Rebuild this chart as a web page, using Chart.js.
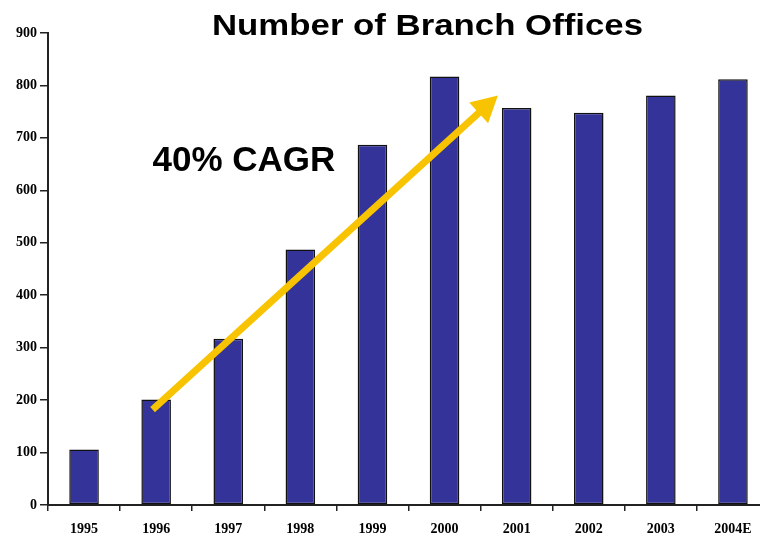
<!DOCTYPE html>
<html>
<head>
<meta charset="utf-8">
<title>Number of Branch Offices</title>
<script src="https://cdn.jsdelivr.net/npm/chart.js@4.4.1/dist/chart.umd.min.js"></script>
<style>
  html, body { margin: 0; padding: 0; background: #fff; overflow: hidden; }
  #wrap { position: relative; width: 772px; height: 538px; }
</style>
</head>
<body>
<div id="wrap"><canvas id="chart-cabang"></canvas></div>
<script>
// ── Data ─────────────────────────────────────────────────────
const tahun      = ['1995', '1996', '1997', '1998', '1999', '2000', '2001', '2002', '2003', '2004E'];
const jmlCabang  = [106, 201, 317, 487, 687, 817, 757, 748, 781, 812];
const sumbuY     = [0, 100, 200, 300, 400, 500, 600, 700, 800, 900];

// Panah CAGR & labelnya, dalam satuan data (x = indeks kategori, y = jumlah cabang)
const panahDari  = { x: 0.95, y: 182 };
const panahKe    = { x: 5.74, y: 781 };
const labelCagr  = { x: 0.95, y: 636, teks: '40% CAGR' };
const judul      = 'Number of Branch Offices';

const BIRU   = '#333399';
const KUNING = '#F8C300';
const GARIS  = '#222';

// ── Plugin: judul + panah pertumbuhan ────────────────────────
const pluginCagr = {
  id: 'cagrArrow',
  afterDatasetsDraw(chart) {
    const { ctx, scales: { x, y } } = chart;
    const x1 = x.getPixelForValue(panahDari.x), y1 = y.getPixelForValue(panahDari.y);
    const x2 = x.getPixelForValue(panahKe.x),   y2 = y.getPixelForValue(panahKe.y);
    const sudut = Math.atan2(y2 - y1, x2 - x1);
    const pjgKepala = 26, lbrKepala = 14;

    ctx.save();
    // batang panah (berhenti di pangkal kepala)
    ctx.strokeStyle = KUNING;
    ctx.lineWidth = 7;
    ctx.lineCap = 'butt';
    ctx.beginPath();
    ctx.moveTo(x1, y1);
    ctx.lineTo(x2 - Math.cos(sudut) * (pjgKepala - 2), y2 - Math.sin(sudut) * (pjgKepala - 2));
    ctx.stroke();
    // kepala panah
    const bx = x2 - Math.cos(sudut) * pjgKepala, by = y2 - Math.sin(sudut) * pjgKepala;
    ctx.fillStyle = KUNING;
    ctx.beginPath();
    ctx.moveTo(x2, y2);
    ctx.lineTo(bx + Math.sin(sudut) * lbrKepala, by - Math.cos(sudut) * lbrKepala);
    ctx.lineTo(bx - Math.sin(sudut) * lbrKepala, by + Math.cos(sudut) * lbrKepala);
    ctx.closePath();
    ctx.fill();

    // label CAGR
    ctx.fillStyle = '#000';
    ctx.font = 'bold 35px "Liberation Sans", Arial, sans-serif';
    ctx.textAlign = 'left';
    ctx.textBaseline = 'alphabetic';
    ctx.fillText(labelCagr.teks, x.getPixelForValue(labelCagr.x), y.getPixelForValue(labelCagr.y));
    ctx.restore();
  },
  afterDraw(chart) {
    // judul agak melebar, digambar manual supaya bisa di-scale horizontal
    const ctx = chart.ctx;
    ctx.save();
    ctx.font = 'bold 29px "Liberation Sans", Arial, sans-serif';
    ctx.fillStyle = '#000';
    ctx.textAlign = 'center';
    ctx.textBaseline = 'alphabetic';
    const skala = 431 / ctx.measureText(judul).width;
    ctx.translate(427.5, 34.5);
    ctx.scale(skala, 1);
    ctx.fillText(judul, 0, 0);
    ctx.restore();
  }
};

// ── Chart ────────────────────────────────────────────────────
new Chart(document.getElementById('chart-cabang'), {
  type: 'bar',
  data: {
    labels: tahun,
    datasets: [{
      label: 'Branch Offices',
      data: jmlCabang,
      backgroundColor: BIRU,
      borderColor: '#111',
      borderWidth: 1.5,
      borderSkipped: false,
      barPercentage: 0.41,
      categoryPercentage: 1
    }]
  },
  options: {
    responsive: true,
    maintainAspectRatio: false,
    animation: false,
    events: [],
    layout: { padding: { top: 33, right: 3, left: 0, bottom: 0 } },
    plugins: { legend: { display: false }, tooltip: { enabled: false }, title: { display: false } },
    scales: {
      x: {
        grid: { display: true, drawOnChartArea: false, drawTicks: true, tickLength: 6, color: GARIS, lineWidth: 1.5, offset: true },
        border: { display: true, color: GARIS, width: 2 },
        ticks: {
          color: '#000', padding: 10,
          font: { family: '"Liberation Serif", "Times New Roman", serif', size: 14, weight: 'bold' }
        },
        afterFit(scale) { scale.height = 33; }
      },
      y: {
        min: sumbuY[0],
        max: sumbuY[sumbuY.length - 1],
        afterBuildTicks(scale) { scale.ticks = sumbuY.map(v => ({ value: v })); },
        grid: { display: true, drawOnChartArea: false, drawTicks: true, tickLength: 8, color: GARIS, lineWidth: 1.5 },
        border: { display: true, color: GARIS, width: 2 },
        ticks: {
          color: '#000', padding: 3,
          font: { family: '"Liberation Serif", "Times New Roman", serif', size: 14, weight: 'bold' }
        },
        afterFit(scale) { scale.width = 48; }
      }
    }
  },
  plugins: [pluginCagr]
});
</script>
</body>
</html>
